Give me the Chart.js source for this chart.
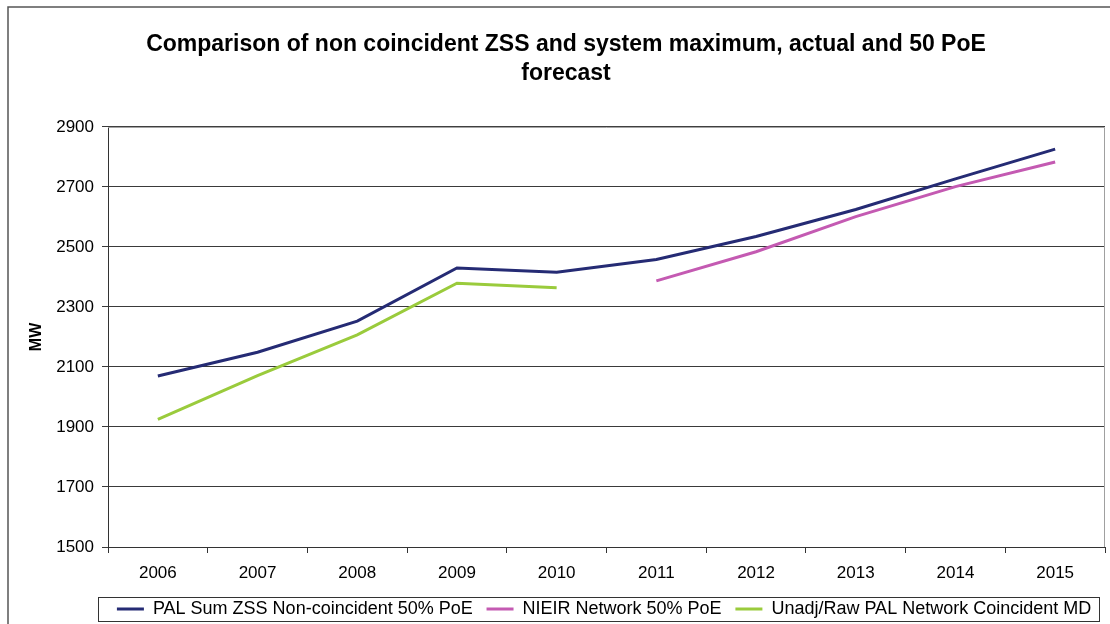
<!DOCTYPE html>
<html>
<head>
<meta charset="utf-8">
<script src="https://cdn.jsdelivr.net/npm/chart.js@4.4.1/dist/chart.umd.min.js"></script>
<style>
  html, body { margin: 0; padding: 0; background: #fff; }
  #wrap { width: 1110px; height: 624px; }
</style>
</head>
<body>
<div id="wrap"><canvas id="mdChart" width="1110" height="624"></canvas></div>
<script>
// Years and MW values
const years = ['2006', '2007', '2008', '2009', '2010', '2011', '2012', '2013', '2014', '2015'];
const palSumZss = [2070, 2149, 2253, 2430, 2416, 2458, 2535, 2625, 2727, 2826];
const nieirNetwork = [null, null, null, null, null, 2387, 2484, 2601, 2701, 2783];
const unadjRaw = [1925, 2071, 2207, 2379, 2364, null, null, null, null, null];
const seriesNames = [
    'PAL Sum ZSS Non-coincident 50% PoE',
    'NIEIR Network 50% PoE',
    'Unadj/Raw PAL Network Coincident MD'
];

const FONT = "'Liberation Sans', Arial, sans-serif";

// outer frame, plot border and legend box
const framePlugin = {
    id: 'frame',
    beforeDraw(chart) {
        const ctx = chart.ctx;
        ctx.save();
        ctx.strokeStyle = '#555';
        ctx.lineWidth = 1.5;
        ctx.beginPath();
        ctx.moveTo(8, 624);
        ctx.lineTo(8, 7);
        ctx.lineTo(1110, 7);
        ctx.stroke();
        ctx.restore();
    },
    afterDraw(chart) {
        const ctx = chart.ctx;
        const a = chart.chartArea;
        ctx.save();
        ctx.strokeStyle = '#a0a0a0';
        ctx.lineWidth = 1;
        ctx.beginPath();
        ctx.moveTo(a.left, a.top + 0.5);
        ctx.lineTo(a.right - 0.5, a.top + 0.5);
        ctx.lineTo(a.right - 0.5, a.bottom);
        ctx.stroke();
        ctx.strokeStyle = '#333';
        ctx.strokeRect(98.5, 597.5, 1001, 24);
        ctx.restore();
    }
};

function makeSet(label, values, color) {
    return {
        label: label,
        data: values,
        borderColor: color,
        backgroundColor: color,
        borderWidth: 3,
        pointRadius: 0,
        pointHoverRadius: 0,
        tension: 0,
        spanGaps: false
    };
}

const config = {
    type: 'line',
    data: {
        labels: years,
        datasets: [
            makeSet(seriesNames[0], palSumZss, '#252b74'),
            makeSet(seriesNames[1], nieirNetwork, '#c45ab2'),
            makeSet(seriesNames[2], unadjRaw, '#9acb3c')
        ]
    },
    options: {
        responsive: false,
        animation: false,
        layout: { padding: { left: 27, right: 5, top: 0, bottom: 0 } },
        plugins: {
            title: {
                display: true,
                text: ['Comparison of non coincident ZSS and system maximum, actual and 50 PoE', 'forecast'],
                font: { family: FONT, size: 23, weight: 'bold', lineHeight: 1.26 },
                color: '#000',
                padding: { top: 30, bottom: 39 }
            },
            legend: {
                position: 'bottom',
                align: 'end',
                maxHeight: 37.8,
                labels: {
                    font: { family: FONT, size: 18 },
                    color: '#000',
                    usePointStyle: true,
                    pointStyle: 'line',
                    pointStyleWidth: 27,
                    padding: 13.8
                }
            },
            tooltip: { enabled: false }
        },
        scales: {
            x: {
                offset: true,
                grid: {
                    offset: true,
                    drawOnChartArea: false,
                    color: '#333',
                    tickLength: 6
                },
                border: { color: '#333', width: 1 },
                ticks: {
                    font: { family: FONT, size: 17 },
                    color: '#000',
                    padding: 10,
                    maxRotation: 0
                },
                afterFit(scale) { scale.height = 39.2; }
            },
            y: {
                min: 1500,
                max: 2900,
                ticks: {
                    stepSize: 200,
                    font: { family: FONT, size: 17 },
                    color: '#000',
                    padding: 8,
                    callback: value => String(value)
                },
                grid: {
                    color: '#3a3a3a',
                    tickLength: 6
                },
                border: { color: '#333', width: 1 },
                title: {
                    display: true,
                    text: 'MW',
                    font: { family: FONT, size: 16, weight: 'bold' },
                    color: '#000',
                    padding: 0
                },
                afterFit(scale) { scale.width = 81; }
            }
        }
    },
    plugins: [framePlugin]
};

new Chart(document.getElementById('mdChart').getContext('2d'), config);
</script>
</body>
</html>
